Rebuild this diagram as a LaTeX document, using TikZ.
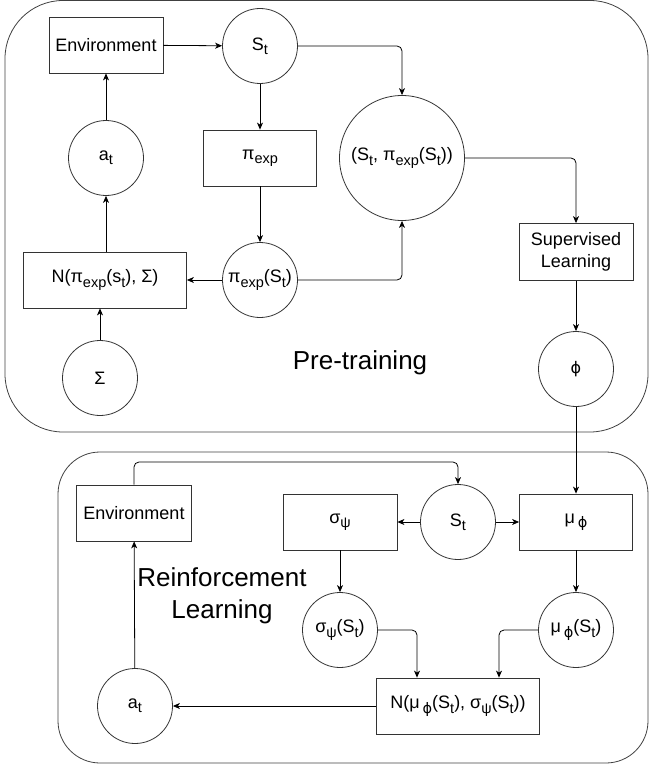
\documentclass[tikz,border=0pt]{standalone}
\usepackage{fontspec}
\setmainfont{Liberation Sans}
\newfontfamily\dvs{DejaVu Sans}
\usetikzlibrary{arrows.meta}
\newcommand{\sbs}[1]{\raisebox{-0.45ex}{\fontsize{14.5}{15}\selectfont #1}}
\newcommand{\vphi}{{\dvs ϕ}}
\begin{document}
\begin{tikzpicture}[x=1pt,y=-1pt,
  every node/.style={font=\fontsize{18}{22}\selectfont},
  box/.style={draw=black!80, line width=0.8pt, inner sep=0pt, minimum height=56pt},
  circ/.style={draw=black!80, line width=0.8pt, circle, inner sep=0pt, minimum size=75pt},
  arr/.style={-{Stealth[length=7pt,width=6pt,inset=2pt]}, line width=0.8pt, rounded corners=5pt},
  cont/.style={draw=black!75, line width=0.8pt},
  big/.style={font=\fontsize{26}{32}\selectfont, align=center}]
\useasboundingbox (0,0) rectangle (650,765);
% containers
\draw[cont, rounded corners=58pt] (5,0.5) rectangle (648,432);
\draw[cont, rounded corners=42pt] (58,452) rectangle (648,763);
% top nodes
\node[box, minimum width=114pt] (env1) at (106,45) {Environment};
\node[circ] (s1) at (260,46) {S\sbs{t}};
\node[circ] (a1) at (106,158) {a\sbs{t}};
\node[box, minimum width=113pt] (pi) at (260,158) {π\sbs{exp}};
\node[circ, minimum size=125pt] (pair) at (402,158) {(S\sbs{t}, π\sbs{exp}(S\sbs{t}))};
\node[circ] (pis) at (260,280) {π\sbs{exp}(S\sbs{t})};
\node[box, minimum width=163pt] (N1) at (105,280) {N(π\sbs{exp}(s\sbs{t}), Σ)};
\node[circ] (sig) at (100,378) {Σ};
\node[big] (pre) at (360,363) {Pre-training};
\node[box, minimum width=114pt, minimum height=57pt, align=center] (sup) at (576,252) {Supervised\\Learning};
\node[circ] (phi) at (576,369) {\fontsize{16}{18}\selectfont\vphi};
% bottom nodes
\node[box, minimum width=115pt] (env2) at (134,513) {Environment};
\node[box, minimum width=114pt] (sgm) at (340,522) {σ\sbs{ψ}};
\node[circ] (s2) at (458,522) {S\sbs{t}};
\node[box, minimum width=113pt] (mu) at (576,522) {μ\,\sbs{\vphi}};
\node[circ] (sgms) at (340,630) {σ\sbs{ψ}(S\sbs{t})};
\node[circ] (mus) at (576,630) {μ\,\sbs{\vphi}(S\sbs{t})};
\node[box, minimum width=163pt] (N2) at (458,706) {N(μ\,\sbs{\vphi}(S\sbs{t}), σ\sbs{ψ}(S\sbs{t}))};
\node[circ] (a2) at (135,706) {a\sbs{t}};
\node[big] (rl) at (222,596) {Reinforcement\\Learning};
\coordinate (top2) at (134,462);
% top connectors
\draw[arr] (env1) -- (s1);
\draw[arr] (s1.east) -| (pair.north);
\draw[arr] (s1) -- (pi);
\draw[arr] (pi) -- (pis);
\draw[arr] (pis) -- (N1);
\draw[arr] (pis.east) -| (pair.south);
\draw[arr] (N1.north -| a1.south) -- (a1.south);
\draw[arr] (a1) -- (env1);
\draw[arr] (sig.north) -- (sig.north |- N1.south);
\draw[arr] (pair.east) -| (sup.north);
\draw[arr] (sup) -- (phi);
\draw[arr] (phi) -- (mu);
% bottom connectors
\draw[arr] (env2.north) -- (top2) -| (s2.north);
\draw[arr] (s2) -- (sgm);
\draw[arr] (s2) -- (mu);
\draw[arr] (sgm) -- (sgms);
\draw[arr] (mu) -- (mus);
\draw[arr] (sgms.east) -| ([xshift=-41pt]N2.north);
\draw[arr] (mus.west) -| ([xshift=41pt]N2.north);
\draw[arr] (N2) -- (a2);
\draw[arr] (a2) -- (env2);
\end{tikzpicture}
\end{document}
